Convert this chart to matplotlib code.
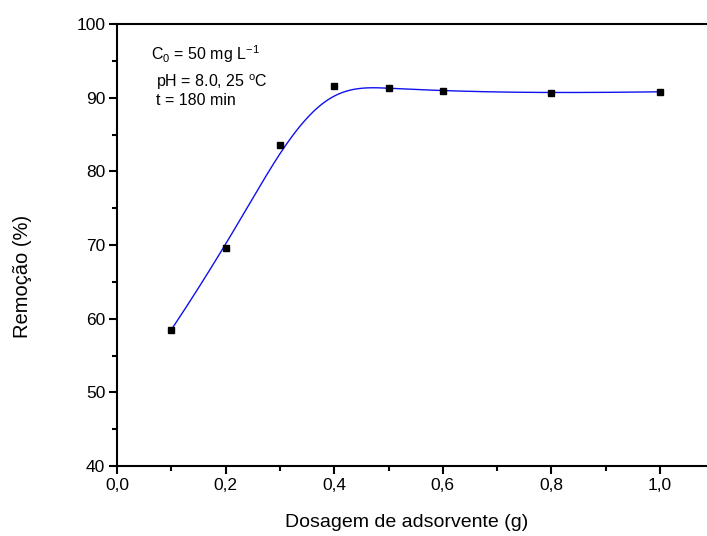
import numpy as np
import matplotlib
matplotlib.use("Agg")
import matplotlib.pyplot as plt
from matplotlib.ticker import MultipleLocator, FuncFormatter

plt.rcParams['font.family'] = ['Liberation Sans', 'DejaVu Sans']
plt.rcParams['mathtext.fontset'] = 'custom'
plt.rcParams['mathtext.rm'] = 'Liberation Sans'
plt.rcParams['mathtext.it'] = 'Liberation Sans:italic'

# Adsorbent dosage (g) and removal (%)
dosagem = [0.1, 0.2, 0.3, 0.4, 0.5, 0.6, 0.8, 1.0]
remocao = [58.5, 69.6, 83.6, 91.6, 91.3, 90.9, 90.6, 90.8]


def bspline(px, py, degree=3, num=400):
    """Clamped uniform B-spline using the points as control points."""
    px = np.asarray(px, float)
    py = np.asarray(py, float)
    n = len(px)
    inner = np.arange(1, n - degree)
    knots = np.concatenate([np.zeros(degree + 1), inner, np.full(degree + 1, n - degree)])
    t = np.linspace(0, n - degree, num)
    t[-1] -= 1e-9

    def basis(i, k, tt):
        if k == 0:
            return ((knots[i] <= tt) & (tt < knots[i + 1])).astype(float)
        out = np.zeros_like(tt)
        d1 = knots[i + k] - knots[i]
        d2 = knots[i + k + 1] - knots[i + 1]
        if d1 > 0:
            out += (tt - knots[i]) / d1 * basis(i, k - 1, tt)
        if d2 > 0:
            out += (knots[i + k + 1] - tt) / d2 * basis(i + 1, k - 1, tt)
        return out

    B = np.array([basis(i, degree, t) for i in range(n)])
    return B.T @ px, B.T @ py


fig = plt.figure(figsize=(7.07, 5.36), dpi=100)
ax = fig.add_axes([0.1655, 0.1306, 0.845, 0.8246])

cx, cy = bspline(dosagem, remocao)
ax.plot(cx, cy, color='#1010ee', lw=1.0, zorder=2)
ax.plot(dosagem, remocao, linestyle='none', marker='s', color='black',
        markersize=4.7, zorder=3)

ax.set_xlim(0, 1.1)
ax.set_ylim(40, 100)
ax.xaxis.set_major_locator(MultipleLocator(0.2))
ax.xaxis.set_minor_locator(MultipleLocator(0.1))
ax.yaxis.set_major_locator(MultipleLocator(10))
ax.yaxis.set_minor_locator(MultipleLocator(5))
ax.xaxis.set_major_formatter(FuncFormatter(lambda v, p: f"{v:.1f}".replace('.', ',')))
ax.yaxis.set_major_formatter(FuncFormatter(lambda v, p: f"{v:.0f}"))

ax.spines['right'].set_visible(False)
for s in ('left', 'bottom', 'top'):
    ax.spines[s].set_linewidth(1.5)
ax.tick_params(which='major', direction='out', length=5.5, width=1.5,
               labelsize=12.5, top=False, right=False, pad=3)
ax.tick_params(which='minor', direction='out', length=3.5, width=1.5,
               top=False, right=False)

ax.set_xlabel('Dosagem de adsorvente (g)', fontsize=14, va='center')
ax.set_ylabel('Remoção (%)', fontsize=14.5, va='center')
ax.xaxis.set_label_coords(0.484, -0.127)
ax.yaxis.set_label_coords(-0.159, 0.43)

ax.text(0.057, 0.932, r'C$_0$ = 50 mg L$^{-1}$', transform=ax.transAxes,
        fontsize=11.5, va='center')
ax.text(0.065, 0.869, r'pH = 8.0, 25 $^{\mathrm{o}}$C', transform=ax.transAxes,
        fontsize=11.5, va='center')
ax.text(0.065, 0.826, 't = 180 min', transform=ax.transAxes,
        fontsize=11.5, va='center')

fig.savefig('out.png', dpi=100)
